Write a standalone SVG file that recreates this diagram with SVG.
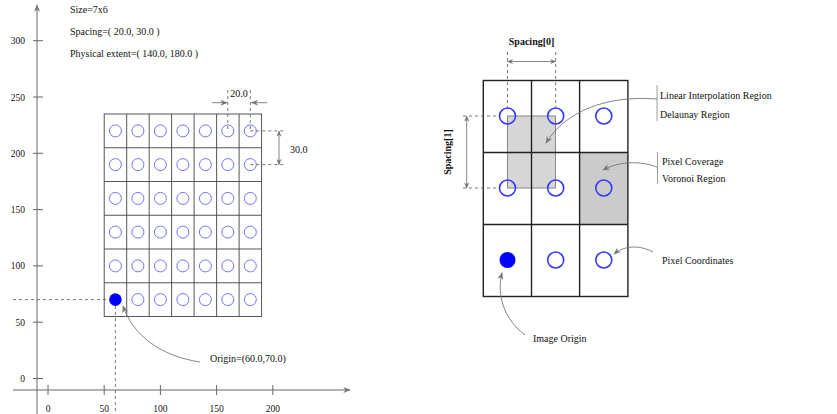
<svg xmlns="http://www.w3.org/2000/svg" width="837" height="414" viewBox="0 0 837 414">
<style>
text{font-family:"Liberation Serif","Times New Roman",serif;font-size:10px;fill:#111}
.tick{font-size:9.5px}
.ax{stroke:#666;stroke-width:1;fill:none}
.dash{stroke:#555;stroke-width:0.8;stroke-dasharray:3,3;fill:none}
.lg{stroke:#444;stroke-width:0.9;fill:none}
.lc{stroke:#7474ee;stroke-width:1;fill:none}
.rg{stroke:#222;stroke-width:1.4;fill:none}
.rc{stroke:#3838ff;stroke-width:1.6;fill:none}
.cur{stroke:#777;stroke-width:0.9;fill:none}
.dim{stroke:#777;stroke-width:0.9;fill:none}
</style>
<defs>
<marker id="ah" viewBox="0 0 10 8" refX="9" refY="4" markerWidth="8" markerHeight="6" orient="auto" markerUnits="userSpaceOnUse">
<path d="M0,0 L10,4 L0,8 L3,4 Z" fill="#777"/>
</marker>
<marker id="ahs" viewBox="0 0 10 8" refX="9" refY="4" markerWidth="7" markerHeight="5" orient="auto-start-reverse" markerUnits="userSpaceOnUse">
<path d="M0,0 L10,4 L0,8 L3,4 Z" fill="#777"/>
</marker>
</defs>

<!-- LEFT: axes -->
<g id="axes">
<line class="ax" x1="37" y1="414" x2="37" y2="5" marker-end="url(#ah)"/>
<line class="ax" x1="13" y1="390" x2="350" y2="390" marker-end="url(#ah)"/>
<g class="ax">
<line x1="33" y1="378.5" x2="43" y2="378.5"/>
<line x1="33" y1="322.2" x2="43" y2="322.2"/>
<line x1="33" y1="265.9" x2="43" y2="265.9"/>
<line x1="33" y1="209.6" x2="43" y2="209.6"/>
<line x1="33" y1="153.3" x2="43" y2="153.3"/>
<line x1="33" y1="97" x2="43" y2="97"/>
<line x1="33" y1="40.7" x2="43" y2="40.7"/>
<line x1="48" y1="385" x2="48" y2="395"/>
<line x1="104.2" y1="385" x2="104.2" y2="395"/>
<line x1="160.4" y1="385" x2="160.4" y2="395"/>
<line x1="216.6" y1="385" x2="216.6" y2="395"/>
<line x1="272.8" y1="385" x2="272.8" y2="395"/>
</g>
<g class="tick" text-anchor="end">
<text class="tick" x="25" y="382">0</text>
<text class="tick" x="25" y="325.5">50</text>
<text class="tick" x="25" y="269">100</text>
<text class="tick" x="25" y="213">150</text>
<text class="tick" x="25" y="156.5">200</text>
<text class="tick" x="25" y="100.5">250</text>
<text class="tick" x="25" y="44">300</text>
</g>
<g text-anchor="middle">
<text class="tick" x="48" y="412">0</text>
<text class="tick" x="104.2" y="412">50</text>
<text class="tick" x="160.4" y="412">100</text>
<text class="tick" x="216.6" y="412">150</text>
<text class="tick" x="272.8" y="412">200</text>
</g>
</g>

<g id="info">
<text x="70" y="13">Size=7x6</text>
<text x="70" y="35">Spacing=( 20.0, 30.0 )</text>
<text x="70" y="57">Physical extent=( 140.0, 180.0 )</text>
</g>

<!-- LEFT: image grid -->
<g id="image-grid">
<rect class="lg" x="104.2" y="114" width="157.4" height="202.5"/>
<g class="lg">
<line x1="126.7" y1="114" x2="126.7" y2="316.5"/>
<line x1="149.2" y1="114" x2="149.2" y2="316.5"/>
<line x1="171.6" y1="114" x2="171.6" y2="316.5"/>
<line x1="194.1" y1="114" x2="194.1" y2="316.5"/>
<line x1="216.6" y1="114" x2="216.6" y2="316.5"/>
<line x1="239.1" y1="114" x2="239.1" y2="316.5"/>
<line x1="104.2" y1="147.75" x2="261.6" y2="147.75"/>
<line x1="104.2" y1="181.5" x2="261.6" y2="181.5"/>
<line x1="104.2" y1="215.25" x2="261.6" y2="215.25"/>
<line x1="104.2" y1="249" x2="261.6" y2="249"/>
<line x1="104.2" y1="282.75" x2="261.6" y2="282.75"/>
</g>
<g class="lc">
<circle cx="115.4" cy="130.9" r="6"/><circle cx="137.9" cy="130.9" r="6"/><circle cx="160.4" cy="130.9" r="6"/><circle cx="182.9" cy="130.9" r="6"/><circle cx="205.4" cy="130.9" r="6"/><circle cx="227.8" cy="130.9" r="6"/><circle cx="250.3" cy="130.9" r="6"/>
<circle cx="115.4" cy="164.6" r="6"/><circle cx="137.9" cy="164.6" r="6"/><circle cx="160.4" cy="164.6" r="6"/><circle cx="182.9" cy="164.6" r="6"/><circle cx="205.4" cy="164.6" r="6"/><circle cx="227.8" cy="164.6" r="6"/><circle cx="250.3" cy="164.6" r="6"/>
<circle cx="115.4" cy="198.4" r="6"/><circle cx="137.9" cy="198.4" r="6"/><circle cx="160.4" cy="198.4" r="6"/><circle cx="182.9" cy="198.4" r="6"/><circle cx="205.4" cy="198.4" r="6"/><circle cx="227.8" cy="198.4" r="6"/><circle cx="250.3" cy="198.4" r="6"/>
<circle cx="115.4" cy="232.1" r="6"/><circle cx="137.9" cy="232.1" r="6"/><circle cx="160.4" cy="232.1" r="6"/><circle cx="182.9" cy="232.1" r="6"/><circle cx="205.4" cy="232.1" r="6"/><circle cx="227.8" cy="232.1" r="6"/><circle cx="250.3" cy="232.1" r="6"/>
<circle cx="115.4" cy="265.9" r="6"/><circle cx="137.9" cy="265.9" r="6"/><circle cx="160.4" cy="265.9" r="6"/><circle cx="182.9" cy="265.9" r="6"/><circle cx="205.4" cy="265.9" r="6"/><circle cx="227.8" cy="265.9" r="6"/><circle cx="250.3" cy="265.9" r="6"/>
<circle cx="137.9" cy="299.6" r="6"/><circle cx="160.4" cy="299.6" r="6"/><circle cx="182.9" cy="299.6" r="6"/><circle cx="205.4" cy="299.6" r="6"/><circle cx="227.8" cy="299.6" r="6"/><circle cx="250.3" cy="299.6" r="6"/>
</g>
</g>

<g id="origin-left">
<line class="dash" x1="13" y1="299.6" x2="109" y2="299.6"/>
<line class="dash" x1="115.4" y1="306" x2="115.4" y2="414"/>
<circle cx="115.4" cy="299.6" r="6.3" fill="#0000ff"/>
<text x="210" y="362">Origin=(60.0,70.0)</text>
</g>

<g id="dims-left">
<line class="dash" x1="227.8" y1="90" x2="227.8" y2="130.9"/>
<line class="dash" x1="250.3" y1="90" x2="250.3" y2="130.9"/>
<text x="239" y="97" text-anchor="middle">20.0</text>
<line class="dash" x1="250.3" y1="130.9" x2="285" y2="130.9"/>
<line class="dash" x1="250.3" y1="164.6" x2="285" y2="164.6"/>
<text x="290" y="153">30.0</text>
</g>

<!-- RIGHT: 3x3 grid -->
<g id="regions">
<rect x="507.5" y="116" width="48" height="72" fill="#d6d6d6" stroke="#888" stroke-width="1"/>
<rect x="579.6" y="152" width="48.3" height="72" fill="#cbcbcb"/>
</g>
<g id="pixel-grid">
<rect class="rg" x="483.3" y="80.5" width="144.6" height="216"/>
<line class="rg" x1="531.5" y1="80.5" x2="531.5" y2="296.5"/>
<line class="rg" x1="579.6" y1="80.5" x2="579.6" y2="296.5"/>
<line class="rg" x1="483.3" y1="152.5" x2="627.9" y2="152.5"/>
<line class="rg" x1="483.3" y1="224.5" x2="627.9" y2="224.5"/>
<g class="rc">
<circle cx="507.5" cy="116" r="8"/><circle cx="555.7" cy="116" r="8"/><circle cx="603.8" cy="116" r="8"/>
<circle cx="507.5" cy="188" r="8"/><circle cx="555.7" cy="188" r="8"/><circle cx="603.8" cy="188" r="8"/>
<circle cx="555.7" cy="260" r="8"/><circle cx="603.8" cy="260" r="8"/>
</g>
<circle id="image-origin-dot" cx="507.5" cy="260" r="8" fill="#0000ff"/>
</g>

<g id="spacing-labels">
<line class="dash" x1="507.5" y1="52" x2="507.5" y2="108"/>
<line class="dash" x1="555.7" y1="52" x2="555.7" y2="108"/>
<text x="531.6" y="45" text-anchor="middle" font-weight="bold">Spacing[0]</text>
<line class="dash" x1="463" y1="116" x2="499.5" y2="116"/>
<line class="dash" x1="463" y1="188" x2="499.5" y2="188"/>
<text x="448" y="155" text-anchor="middle" font-weight="bold" transform="rotate(-90 448 152)">Spacing[1]</text>
</g>

<g id="callouts">
<line stroke="#888" stroke-width="0.8" x1="657" y1="85" x2="657" y2="121"/>
<text x="660" y="99">Linear Interpolation Region</text>
<text x="660" y="118">Delaunay Region</text>
<line stroke="#888" stroke-width="0.8" x1="657.5" y1="152" x2="657.5" y2="184"/>
<text x="662" y="165">Pixel Coverage</text>
<text x="662" y="182">Voronoi Region</text>
<text x="662" y="264">Pixel Coordinates</text>
<text x="533" y="342">Image Origin</text>
</g>

<!-- connectors -->
<g id="connectors">
<path class="cur" d="M200,362 C160,356 133,335 123,306" marker-end="url(#ah)"/>
<line class="dim" x1="212" y1="102.7" x2="227" y2="102.7" marker-end="url(#ah)"/>
<line class="dim" x1="267" y1="102.7" x2="251.5" y2="102.7" marker-end="url(#ah)"/>
<line class="dim" x1="279" y1="131" x2="279" y2="164.5" marker-start="url(#ahs)" marker-end="url(#ahs)"/>
<line class="dim" x1="507.5" y1="61.5" x2="555.7" y2="61.5" marker-start="url(#ahs)" marker-end="url(#ahs)"/>
<line class="dim" x1="466.7" y1="116" x2="466.7" y2="188" marker-start="url(#ahs)" marker-end="url(#ahs)"/>
<path class="cur" d="M657,99 C605,95 565,112 546,143" marker-end="url(#ah)"/>
<path class="cur" d="M657,167 C638,160 618,162 603,170" marker-end="url(#ah)"/>
<path class="cur" d="M653,252 C640,245 625,245 614,254" marker-end="url(#ah)"/>
<path class="cur" d="M525,335 C505,320 496,296 502,273" marker-end="url(#ah)"/>
</g>
</svg>
